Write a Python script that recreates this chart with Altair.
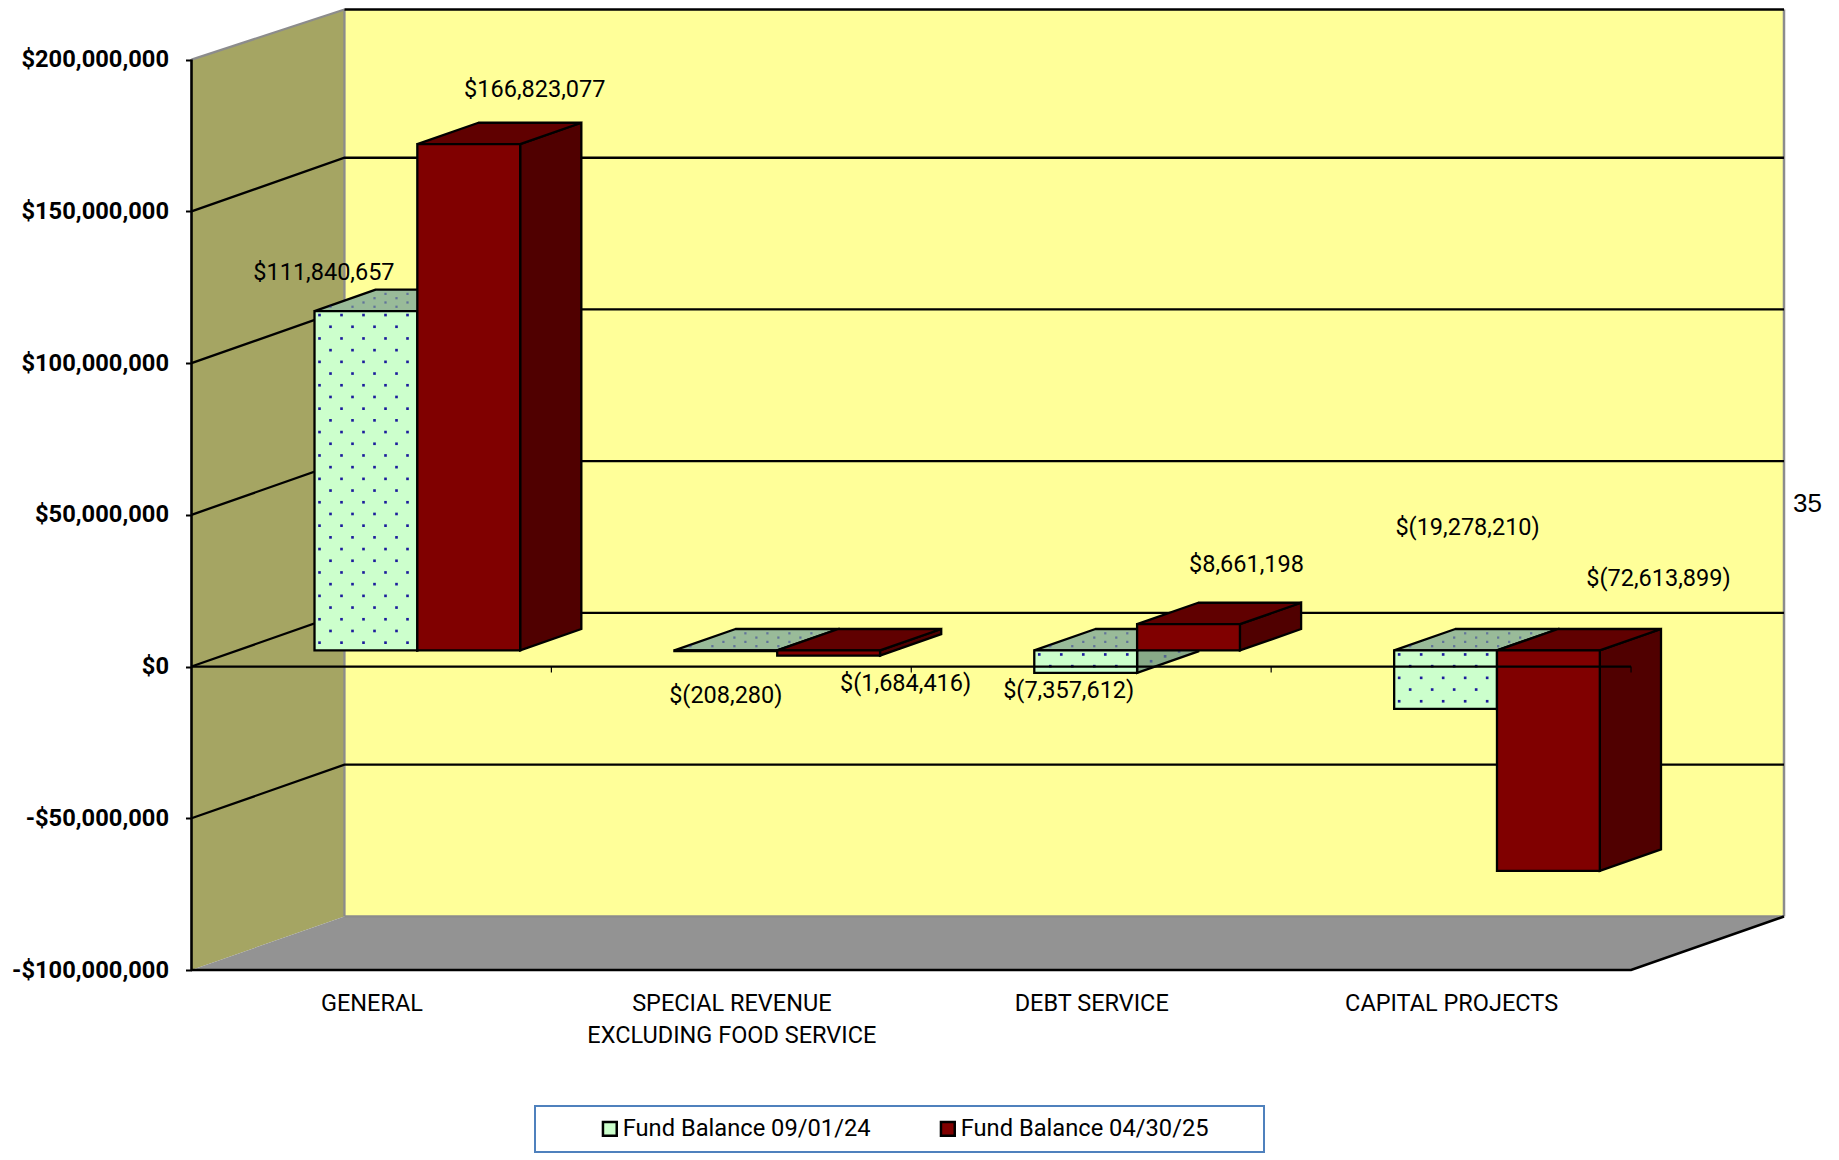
import altair as alt
import pandas as pd

# ---- values
categories = ["GENERAL", "SPECIAL REVENUE|EXCLUDING FOOD SERVICE", "DEBT SERVICE", "CAPITAL PROJECTS"]
series_names = ["Fund Balance 09/01/24", "Fund Balance 04/30/25"]
balance_sep = [111840657, -208280, -7357612, -19278210]
balance_apr = [166823077, -1684416, 8661198, -72613899]
tick_values = [-100000000, -50000000, 0, 50000000, 100000000, 150000000, 200000000]

# ---- projection of the pseudo-3D box (units of the x and y scales)
W, H = 1592.5, 962
DEPTH_X = 0.425          # category widths
DEPTH_Y = 17.66e6        # dollars
TOP_PX = 51.6            # pixels from the plot's top edge down to $200M
PX_PER_Y = (H - TOP_PX) / 300e6
Y_MIN, Y_MAX = -100e6, 200e6 + TOP_PX / PX_PER_Y
WALL_TOP = Y_MAX - 1.5 / PX_PER_Y
X_MAX = 4 + DEPTH_X
BAR_START, BAR_DEPTH = 0.3, 0.4
GAP, BAR_W = 0.75 / 3.5, 1 / 3.5
PX_PER_X = W / X_MAX

FONT = "Roboto, sans-serif"
RED, RED_TOP, RED_SIDE = "#800000", "#600000", "#500000"
GREEN, GREEN_TOP, GREEN_SIDE = "#CCFFCC", "#99BB99", "#88AA88"
DOT = "#1C1C9C"
WALL, BACK, FLOOR, EDGE = "#A5A563", "#FFFF99", "#939393", "#8C8C8C"
LW = 2.3

# label offsets from the bar's top-centre, in pixels
label_offsets = [[(-42, -38), (66, -54)], [(0, 45), (77, 28)],
                 [(-17, 18), (58, -59)], [(22, -181), (110, -292)]]

cat_expr = " : ".join(f"datum.value=={c + 0.5} ? {repr(cat.split('|')) if '|' in cat else repr(cat)}"
                      for c, cat in enumerate(categories)) + " : ''"
x_axis = alt.Axis(values=[0.5, 1.5, 2.5, 3.5], title=None, domain=False, ticks=False, grid=False,
                  labelExpr=cat_expr, labelFont=FONT, labelFontSize=23.5, labelColor="black",
                  labelPadding=21, labelAngle=0, labelLineHeight=32, labelOverlap=False,
                  labelLimit=500)
y_axis = alt.Axis(values=tick_values, title=None, domain=False, grid=False, tickSize=6, tickWidth=2,
                  tickColor="black", labelPadding=17,
                  labelExpr="(datum.value < 0 ? '-$' : '$') + format(abs(datum.value), ',')",
                  labelFont=FONT, labelFontSize=23.7, labelFontWeight="bold", labelColor="black",
                  labelOverlap=False)

X = lambda f="x": alt.X(f"{f}:Q", scale=alt.Scale(domain=[0, X_MAX], nice=False, zero=False), axis=x_axis)
Y = lambda f="y": alt.Y(f"{f}:Q", scale=alt.Scale(domain=[Y_MIN, Y_MAX], nice=False, zero=False), axis=y_axis)

layers = []


def seg(points, color="black", width=LW):
    df = pd.DataFrame(points, columns=["x", "y"])
    df["o"] = range(len(df))
    return alt.Chart(df).mark_line(color=color, strokeWidth=width, clip=False).encode(
        x=X(), y=Y(), order="o:Q")


def vface(x0, x1, top0, bot0, fill):
    """parallelogram with vertical left and right edges"""
    df = pd.DataFrame({"x": [x0, x1], "y": [top0, top0 + DEPTH_Y * (x1 - x0) / DEPTH_X],
                       "y2": [bot0, bot0 + DEPTH_Y * (x1 - x0) / DEPTH_X]})
    return alt.Chart(df).mark_area(orient="vertical", fill=fill, stroke="black", strokeWidth=LW,
                                   strokeJoin="miter").encode(x=X(), y=Y(), y2="y2:Q")


def hface(x0, x1, y0, dfrac, fill, stroke="black"):
    """parallelogram with horizontal top and bottom edges"""
    dx = DEPTH_X * dfrac
    dy = DEPTH_Y * dfrac
    df = pd.DataFrame({"y": [y0, y0 + dy], "x": [x0, x0 + dx], "x2": [x1, x1 + dx]})
    return alt.Chart(df).mark_area(orient="horizontal", fill=fill, stroke=stroke, strokeWidth=LW,
                                   strokeJoin="miter").encode(y=Y(), x=X(), x2="x2:Q")


def dots(pts, opacity=1.0, size=7):
    if not pts:
        return None
    df = pd.DataFrame(pts, columns=["x", "y"])
    return alt.Chart(df).mark_square(size=size, color=DOT, opacity=opacity, strokeWidth=0).encode(x=X(), y=Y())


# ---- walls and floor
layers.append(alt.Chart(pd.DataFrame({"x": [DEPTH_X], "x2": [X_MAX], "y": [WALL_TOP], "y2": [Y_MIN + DEPTH_Y]}))
              .mark_rect(fill=BACK).encode(x=X(), x2="x2:Q", y=Y(), y2="y2:Q"))
left = pd.DataFrame({"x": [0, DEPTH_X], "y": [200e6, WALL_TOP], "y2": [Y_MIN, Y_MIN + DEPTH_Y]})
layers.append(alt.Chart(left).mark_area(orient="vertical", fill=WALL).encode(x=X(), y=Y(), y2="y2:Q"))
floor = pd.DataFrame({"y": [Y_MIN, Y_MIN + DEPTH_Y], "x": [0, DEPTH_X], "x2": [4, X_MAX]})
layers.append(alt.Chart(floor).mark_area(orient="horizontal", fill=FLOOR).encode(y=Y(), x=X(), x2="x2:Q"))

# ---- edges
layers.append(seg([(0, 200e6), (DEPTH_X, WALL_TOP)], EDGE))
layers.append(seg([(DEPTH_X, WALL_TOP), (DEPTH_X, Y_MIN + DEPTH_Y)], EDGE))
layers.append(seg([(X_MAX, WALL_TOP), (X_MAX, Y_MIN + DEPTH_Y)], EDGE, 2.5))
layers.append(seg([(DEPTH_X, Y_MIN + DEPTH_Y), (X_MAX, Y_MIN + DEPTH_Y)], EDGE))
layers.append(seg([(DEPTH_X, WALL_TOP), (X_MAX, WALL_TOP)]))

# ---- gridlines
for v in tick_values[1:-1]:
    layers.append(seg([(0, v), (DEPTH_X, v + DEPTH_Y), (X_MAX, v + DEPTH_Y)]))

# ---- floor front edges and left axis line
layers.append(seg([(0, Y_MIN), (4, Y_MIN), (X_MAX, Y_MIN + DEPTH_Y)], "black", 2.6))
layers.append(seg([(0, 200e6), (0, Y_MIN)], "black", 2.6))

# ---- bars
color = alt.Color("series:N",
                  scale=alt.Scale(domain=series_names, range=[GREEN, RED]),
                  legend=alt.Legend(title=None, orient="none", legendX=406.5, legendY=1109,
                                    direction="horizontal", columns=2, columnPadding=64,
                                    symbolType="square", symbolSize=190, symbolStrokeColor="black",
                                    symbolStrokeWidth=2.5, symbolOpacity=1, labelOffset=1,
                                    labelFont=FONT, labelFontSize=23.7, labelColor="black",
                                    labelLimit=400, padding=0))

STEP_X = 22 / PX_PER_X
STEP_Y = 11.7 / PX_PER_Y
for c in range(4):
    for s, values in enumerate([balance_sep, balance_apr]):
        v = values[c]
        x0 = c + BAR_START * DEPTH_X + GAP + BAR_W * s
        x1 = x0 + BAR_W
        shift = BAR_START * DEPTH_Y
        top, bot = max(v, 0) + shift, min(v, 0) + shift
        d = BAR_DEPTH * DEPTH_X
        top_fill, side_fill = (GREEN_TOP, GREEN_SIDE) if s == 0 else (RED_TOP, RED_SIDE)
        layers.append(vface(x1, x1 + d, top, bot, side_fill))
        layers.append(hface(x0, x1, top, BAR_DEPTH, top_fill))
        front = pd.DataFrame({"x": [x0], "x2": [x1], "y": [top], "y2": [bot], "series": [series_names[s]]})
        layers.append(alt.Chart(front).mark_rect(stroke="black", strokeWidth=LW).encode(
            x=X(), x2="x2:Q", y=Y(), y2="y2:Q", color=color))
        if s == 0:
            front_pts, top_pts, side_pts = [], [], []
            row = 0
            yy = top - 4 / PX_PER_Y
            while yy > bot + 2 / PX_PER_Y:
                xx = x0 + (5 if row % 2 == 0 else 16) / PX_PER_X
                while xx < x1 - 2 / PX_PER_X:
                    front_pts.append((xx, yy))
                    xx += STEP_X
                for k in range(1, 4):
                    sx = x1 + k * 14 / PX_PER_X
                    side_pts.append((sx, yy + (sx - x1) / DEPTH_X * DEPTH_Y))
                row += 1
                yy -= STEP_Y
            # top face: a horizontal lattice clipped to the parallelogram
            for r in range(1, 5):
                f = r / 5 * BAR_DEPTH
                lo, hi = x0 + f * DEPTH_X, x1 + f * DEPTH_X
                xx = x0 + (5 if r % 2 == 0 else 16) / PX_PER_X
                while xx < hi - 3 / PX_PER_X:
                    if xx > lo + 3 / PX_PER_X:
                        top_pts.append((xx, top + f * DEPTH_Y))
                    xx += STEP_X
            for layer in (dots(side_pts, 0.5), dots(top_pts, 0.45, 5), dots(front_pts)):
                if layer is not None:
                    layers.append(layer)

# ---- zero line with category ticks, drawn over the bars
layers.append(seg([(0, 0), (4, 0)]))
TICK = 6 / PX_PER_Y
for c in range(1, 5):
    layers.append(seg([(c, 0), (c, -TICK)], "black", 1.2))

# ---- value labels
for c in range(4):
    for s, values in enumerate([balance_sep, balance_apr]):
        v = values[c]
        txt = f"${v:,}" if v >= 0 else f"$({-v:,})"
        xc = c + BAR_START * DEPTH_X + GAP + BAR_W * (s + 0.5)
        df = pd.DataFrame({"x": [xc], "y": [v + BAR_START * DEPTH_Y], "t": [txt]})
        dx, dy = label_offsets[c][s]
        layers.append(alt.Chart(df).mark_text(font=FONT, fontSize=23.5, color="black", dx=dx, dy=dy,
                                              baseline="middle", align="center").encode(
            x=X(), y=Y(), text="t:N"))

layers.append(alt.Chart(pd.DataFrame({"x": [4.49], "y": [53.4e6], "t": ["35"]}))
              .mark_text(font="Liberation Sans", fontSize=26, color="black", align="center", baseline="middle")
              .encode(x=X(), y=Y(), text="t:N"))

# ---- legend frame behind the legend
box = alt.Chart(pd.DataFrame({"a": [0]})).mark_rect(fill="white", stroke="#4F81BD", strokeWidth=2).encode(
    x=alt.value(343.5), x2=alt.value(1072.5), y=alt.value(1098), y2=alt.value(1144))
layers.append(box)

chart = alt.layer(*layers).properties(
    width=W, height=H, background="white",
    padding={"left": 183.5, "top": 0, "right": 45, "bottom": 190},
    autosize=alt.AutoSizeParams(type="none"),
).configure_view(stroke=None)

chart.save("out.html", embed_options={"renderer": "svg", "actions": False})
